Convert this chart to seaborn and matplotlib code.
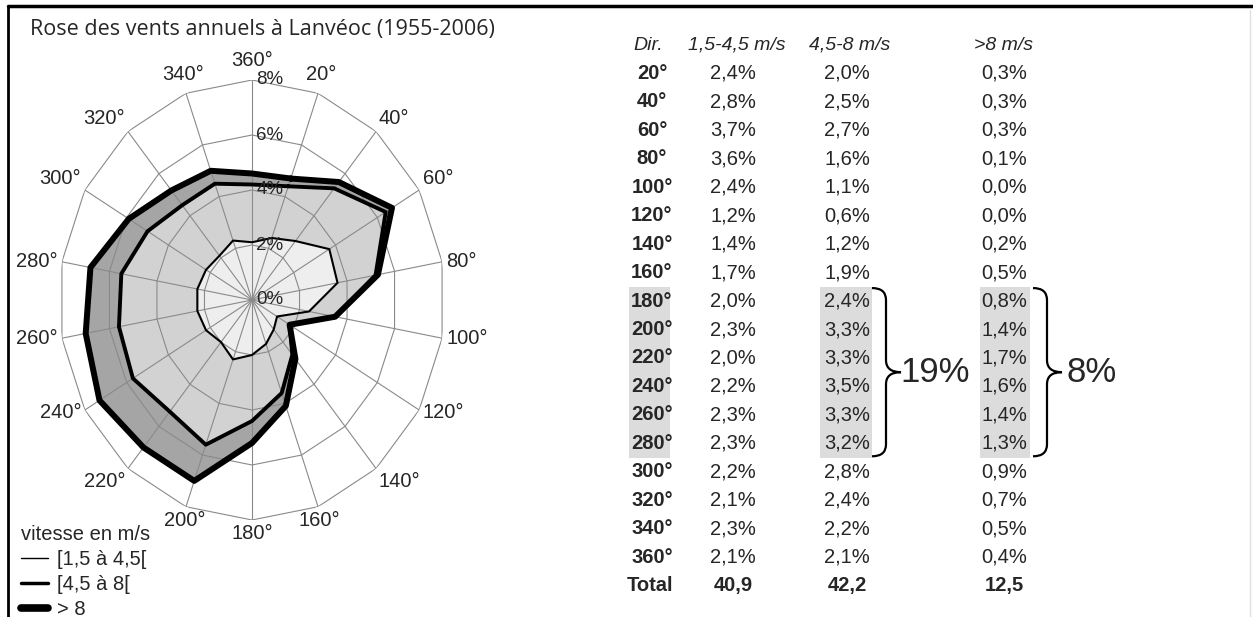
import numpy as np
import pandas as pd
import seaborn as sns
import matplotlib.pyplot as plt
from matplotlib.path import Path
from matplotlib.patches import PathPatch, Rectangle
from matplotlib.lines import Line2D

directions = [20, 40, 60, 80, 100, 120, 140, 160, 180, 200, 220, 240, 260, 280, 300, 320, 340, 360]
speed_low = [2.4, 2.8, 3.7, 3.6, 2.4, 1.2, 1.4, 1.7, 2.0, 2.3, 2.0, 2.2, 2.3, 2.3, 2.2, 2.1, 2.3, 2.1]
speed_mid = [2.0, 2.5, 2.7, 1.6, 1.1, 0.6, 1.2, 1.9, 2.4, 3.3, 3.3, 3.5, 3.3, 3.2, 2.8, 2.4, 2.2, 2.1]
speed_high = [0.3, 0.3, 0.3, 0.1, 0.0, 0.0, 0.2, 0.5, 0.8, 1.4, 1.7, 1.6, 1.4, 1.3, 0.9, 0.7, 0.5, 0.4]
totals = ["40,9", "42,2", "12,5"]
col_headers = ["Dir.", "1,5-4,5 m/s", "4,5-8 m/s", ">8 m/s"]
rings = [0, 2, 4, 6, 8]
group_labels = ["19%", "8%"]
legend_labels = ["[1,5 à 4,5[", "[4,5 à 8[", "> 8"]

sns.set_theme(style="white")
plt.rcParams['font.family'] = ['Liberation Sans', 'DejaVu Sans']

W, H = 1253, 617
fig = plt.figure(figsize=(W / 100, H / 100), dpi=100)
fig.patch.set_facecolor('white')

# overlay axes in pixel coordinates for table, braces, legend, frame
ov = fig.add_axes([0, 0, 1, 1])
ov.set_xlim(0, W)
ov.set_ylim(H, 0)
ov.axis('off')

# ---- wind rose ----
ax = fig.add_axes([59 / W, 97 / H, 386 / W, 440 / H], projection='polar')
ax.set_theta_zero_location('N')
ax.set_theta_direction(-1)
ax.set_aspect('auto')
ax.grid(False)
ax.set_xticks([])
ax.set_yticks([])
ax.spines['polar'].set_visible(False)
ax.patch.set_alpha(0)

th = np.deg2rad(directions + directions[:1])
c1 = np.array(speed_low)
c2 = c1 + np.array(speed_mid)
c3 = c2 + np.array(speed_high)
close = lambda a: np.append(a, a[0])

ax.fill(th, close(c3), color='#a5a5a5', zorder=1, lw=0)
ax.fill(th, close(c2), color='#d2d2d2', zorder=1, lw=0)
ax.fill(th, close(c1), color='#eeeeee', zorder=1, lw=0)

for r in rings[1:]:
    ax.plot(th, [r] * len(th), color='#8a8a8a', lw=0.8, zorder=2)
for t in th[:-1]:
    ax.plot([t, t], [0, 8], color='#8a8a8a', lw=0.8, zorder=2)

for vals, lw in [(c1, 1.5), (c2, 2.8), (c3, 4.3)]:
    sns.lineplot(x=th, y=close(vals), sort=False, estimator=None, color='black',
                 linewidth=lw, ax=ax, zorder=3)
ax.set_ylim(0, 8)
ax.set_xlabel('')
ax.set_ylabel('')

for d in directions:
    t = np.deg2rad(d)
    s, c = np.sin(t), np.cos(t)
    ha = 'left' if s > 0.4 else ('right' if s < -0.4 else 'center')
    va = 'bottom' if c > 0.4 else ('top' if c < -0.6 else 'center')
    off = 7 if c > 0.9 else 3
    ax.annotate(f"{d}°", xy=(t, 8), xytext=(off * s, off * c), textcoords='offset points',
                ha=ha, va=va, fontsize=14.5, zorder=5)

for r in rings:
    ax.annotate(f"{r}%", xy=(0, r), xytext=(3, 0), textcoords='offset points',
                ha='left', va='center', fontsize=13.5, zorder=5)

ov.text(262, 29, "Rose des vents annuels à Lanvéoc (1955-2006)", ha='center', va='center',
        fontsize=15.5, family=['Open Sans', 'DejaVu Sans'])

# legend
handles = [Line2D([], [], color='black', lw=w) for w in (1.0, 2.5, 5.5)]
leg = ov.legend(handles, legend_labels, title="vitesse en m/s", loc='upper left',
                bbox_to_anchor=(21, 525), bbox_transform=ov.transData, frameon=False,
                alignment='left', fontsize=14.5, title_fontsize=14.5, handlelength=1.35,
                handletextpad=0.45, labelspacing=0.3, borderpad=0, borderaxespad=0)

# ---- table ----
col_x = [652, 733, 847, 1004]
head_x = [648, 737, 850, 1004]
row0, dy = 45, 28.45

for i in (0, 2, 3):
    x0, x1 = [(629, 670), (712, 753), (820, 872), (980, 1030)][i]
    ov.add_patch(Rectangle((x0, row0 + 9 * dy - 14), x1 - x0, 6 * dy, color='#dcdcdc', lw=0, zorder=0))

for x, h in zip(head_x, col_headers):
    ov.text(x, row0, h, ha='center', va='center', fontsize=14, style='italic')

for i, d in enumerate(directions):
    y = row0 + (i + 1) * dy
    ov.text(col_x[0], y, f"{d}°", ha='center', va='center', fontsize=14.5, weight='bold')
    for x, v in zip(col_x[1:], (speed_low[i], speed_mid[i], speed_high[i])):
        ov.text(x, y, f"{v:.1f}%".replace('.', ','), ha='center', va='center', fontsize=14.5)

yt = row0 + 19 * dy
ov.text(col_x[0] - 2, yt, "Total", ha='center', va='center', fontsize=14.5, weight='bold')
for x, t in zip(col_x[1:], totals):
    ov.text(x, yt, t, ha='center', va='center', fontsize=14.5, weight='bold')

# braces
def brace(x0, top, bot, lab_x, label):
    mid = (top + bot) / 2
    xs, xt = x0 + 14, x0 + 29
    verts = [(x0, top), (xs, top), (xs, top + 12), (xs, mid - 12), (xs, mid), (xt, mid),
             (xs, mid), (xs, mid + 12), (xs, bot - 12), (xs, bot), (x0, bot)]
    codes = [Path.MOVETO, Path.CURVE3, Path.CURVE3, Path.LINETO, Path.CURVE3, Path.CURVE3,
             Path.CURVE3, Path.CURVE3, Path.LINETO, Path.CURVE3, Path.CURVE3]
    ov.add_patch(PathPatch(Path(verts, codes), fill=False, lw=1.6, color='black'))
    ov.text(lab_x, mid, label, ha='center', va='center', fontsize=25)

top = row0 + 9 * dy - 13
bot = row0 + 14 * dy + 13
brace(872, top, bot, 935, group_labels[0])
brace(1033, top, bot, 1092, group_labels[1])

# frame
ov.plot([8, W], [6, 6], color='black', lw=2.5)
ov.plot([8, 8], [6, H], color='black', lw=2)
ov.plot([1250, 1250], [10, H], color='#e0e0e0', lw=1)

fig.savefig('out.png', dpi=100, facecolor='white')
